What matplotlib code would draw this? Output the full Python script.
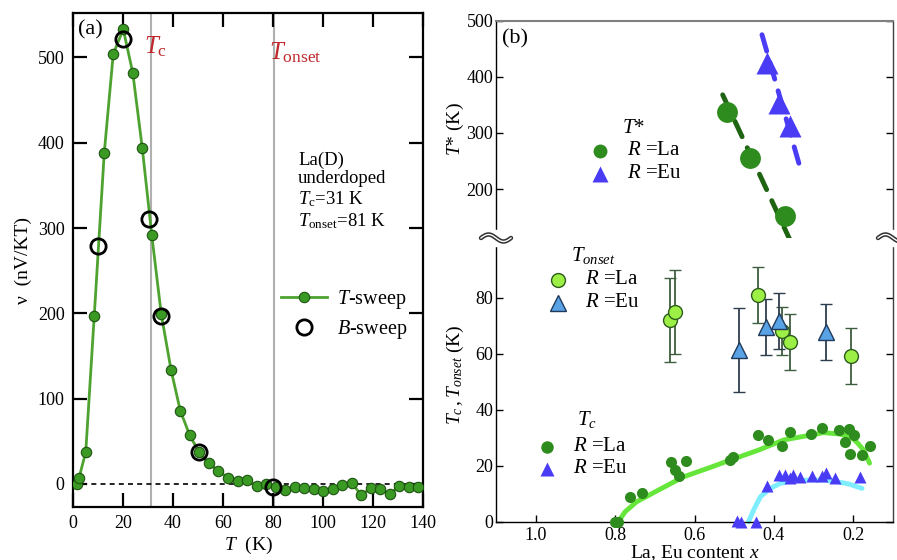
import numpy as np
import matplotlib
matplotlib.use("Agg")
import matplotlib.pyplot as plt
from matplotlib.lines import Line2D
from matplotlib.patches import Rectangle

plt.rcParams['font.family'] = ['Liberation Serif', 'DejaVu Serif']
plt.rcParams['mathtext.fontset'] = 'custom'
plt.rcParams['mathtext.rm'] = 'Liberation Serif'
plt.rcParams['mathtext.it'] = 'Liberation Serif:italic'
plt.rcParams['mathtext.bf'] = 'Liberation Serif:bold'

# ---------------- Panel (a) data ----------------
t_sweep_T = [1.5, 2.4, 5.1, 8.5, 12.5, 16.1, 20.1, 23.9, 27.7, 31.5, 35.3, 39.2, 42.9,
             46.7, 50.5, 54.3, 58.1, 62.0, 65.9, 69.6, 73.5, 77.2, 81.0, 84.8, 88.8,
             92.5, 96.3, 100.0, 103.8, 107.7, 111.5, 115.2, 119.1, 122.9, 126.6,
             130.5, 134.3, 138.1]
t_sweep_v = [0, 7, 37.5, 197, 388, 504, 533, 482, 394, 292, 199, 134, 86,
             57, 37, 24, 15.6, 7, 3, 5, -2.3, 0, -4, -7, -3,
             -5, -6, -8, -5.5, -1.5, 1.5, -13, -5, -5.5, -12,
             -2.5, -3.5, -3.5]
b_sweep_T = [10.1, 20.1, 30.5, 35.3, 50.5, 80.1]
b_sweep_v = [279, 522, 311, 197, 37, -4]
Tc_a = 31
Tonset_a = 80.5

# ---------------- Panel (b) data ----------------
tstar_la_x = [0.517, 0.460, 0.371]
tstar_la_y = [337, 255, 152]
tstar_eu_x = [0.417, 0.388, 0.360]
tstar_eu_y = [424, 353, 312]
trend_la_x = [0.529, 0.350]
trend_la_y = [368, 95]
trend_eu_x = [0.430, 0.335]
trend_eu_y = [475, 241]

tonset_la_x = [0.662, 0.648, 0.439, 0.380, 0.359, 0.207]
tonset_la_y = [72, 75, 81, 68, 64, 59]
tonset_la_err = [15, 15, 10, 8.5, 10, 10]
tonset_eu_x = [0.489, 0.419, 0.387, 0.268]
tonset_eu_y = [61.3, 69.4, 71.8, 67.7]
tonset_eu_err = [15, 10, 10, 10]

tc_la_x = [0.800, 0.792, 0.763, 0.733, 0.660, 0.649, 0.640, 0.621, 0.510, 0.502,
           0.439, 0.414, 0.380, 0.359, 0.306, 0.279, 0.237, 0.211, 0.220, 0.199,
           0.209, 0.178, 0.159]
tc_la_y = [0, 0, 8.9, 10.1, 21.2, 18.5, 16.3, 21.8, 22, 23.2,
           31, 29.2, 27, 32.1, 31.3, 33.3, 32.7, 33, 28.6, 31,
           24.2, 23.8, 27]
tc_eu_x = [0.493, 0.484, 0.444, 0.417, 0.388, 0.371, 0.359, 0.353, 0.333, 0.304,
           0.279, 0.268, 0.245, 0.182]
tc_eu_y = [0.4, 0, 0, 12.7, 16.7, 16.7, 15.5, 16.5, 15.9, 16.3,
           16.3, 17.5, 15.5, 16.1]

guide_la_x = [0.792, 0.775, 0.746, 0.70, 0.628, 0.56, 0.51, 0.44, 0.375, 0.32,
              0.275, 0.235, 0.207, 0.19, 0.174, 0.159]
guide_la_y = [0, 3.5, 7.1, 10.6, 16, 19.4, 22, 25.5, 29.2, 30.6,
              31.8, 31.3, 30.4, 28.2, 25.6, 20.9]
guide_eu_x = [0.464, 0.45, 0.434, 0.41, 0.384, 0.35, 0.308, 0.27, 0.241, 0.21, 0.178]
guide_eu_y = [0, 4.5, 8.9, 11.8, 13.7, 14.6, 14.9, 14.8, 14.3, 13.4, 11.9]

# ---------------- Figure ----------------
W, H = 897, 560
fig = plt.figure(figsize=(W / 100, H / 100), dpi=100)
SERIF = 'Liberation Serif'

def fx(px):
    return px / W

def fy(py):
    return 1 - py / H

# Panel (a)
axa = fig.add_axes([fx(73), fy(507), fx(423) - fx(73), fy(13) - fy(507)])
axa.set_xlim(0, 140)
axa.set_ylim(-27, 552)
axa.axvline(Tc_a, color='#b0b0b0', lw=1.5, zorder=1)
axa.axvline(Tonset_a, color='#b0b0b0', lw=1.5, zorder=1)
axa.axhline(0, color='black', lw=1.2, ls=(0, (3, 2.5)), zorder=1)
axa.plot(t_sweep_T, t_sweep_v, '-o', color='#4ea22f', lw=2, ms=7.5,
         mfc='#3b9a24', mec='#1c5410', mew=0.8, zorder=3, label='$T$-sweep')
axa.plot(b_sweep_T, b_sweep_v, 'o', ms=11, mfc='none', mec='black', mew=2,
         zorder=4, label='$B$-sweep')
for s in axa.spines.values():
    s.set_linewidth(1.6)
axa.set_xticks(np.arange(0, 141, 20))
axa.set_yticks(np.arange(0, 501, 100))
axa.tick_params(direction='in', length=10, width=1.6, top=True, right=True,
                labelsize=13, pad=6, labelfontfamily=SERIF)
axa.set_xlabel('$T$  (K)', fontsize=14, labelpad=2)
axa.set_ylabel('ν  (nV/KT)', fontsize=14, labelpad=4)
axa.text(0.014, 0.985, '(a)', transform=axa.transAxes, fontsize=16, va='top', ha='left')
axa.text(28.3, 513, r'$T_{\mathrm{c}}$', color='#c0282d', fontsize=18, va='center', ha='left')
axa.text(78.3, 506, r'$T_{\mathrm{onset}}$', color='#c0282d', fontsize=18, va='center', ha='left')
axa.text(90, 390, 'La(D)\nunderdoped\n' + r'$T_{\mathrm{c}}$=31 K' + '\n' + r'$T_{\mathrm{onset}}$=81 K',
         fontsize=13.5, va='top', ha='left', linespacing=1.15)
axa.legend(loc='upper left', bbox_to_anchor=(0.57, 0.46), frameon=False, fontsize=14.5,
           handlelength=2.3, handletextpad=0.5, borderaxespad=0, labelspacing=0.35)

# Panel (b)
xb0, xb1 = fx(496), fx(893)
axt = fig.add_axes([xb0, fy(238), xb1 - xb0, fy(20.7) - fy(238)])
axb = fig.add_axes([xb0, fy(521.7), xb1 - xb0, fy(238) - fy(521.7)])
for ax in (axt, axb):
    ax.set_xlim(1.1, 0.1)
    ax.spines['left'].set_color('black')
    ax.spines['right'].set_color('#404040')
    for s in ax.spines.values():
        s.set_linewidth(1.0)
axt.set_ylim(113, 500)
axb.set_ylim(0, 101.3)
axt.spines['bottom'].set_visible(False)
axt.spines['top'].set_color('#808080')
axt.spines['top'].set_linewidth(1.5)
axb.spines['top'].set_visible(False)

axt.set_xticks([])
axt.set_yticks([200, 300, 400, 500])
axt.tick_params(direction='in', length=5, width=1, right=True, labelsize=13, pad=2,
                labelfontfamily=SERIF)
axb.set_xticks([1.0, 0.8, 0.6, 0.4, 0.2])
axb.set_xticklabels(['1.0', '0.8', '0.6', '0.4', '0.2'])
axb.set_yticks([0, 20, 40, 60, 80])
axb.tick_params(direction='in', length=5, width=1, right=True, labelsize=13, pad=2,
                labelfontfamily=SERIF)
axb.tick_params(axis='x', pad=4)

green_d = '#2e8b1e'
blue_v = '#4a3cf5'
# T* panel
axt.plot(trend_la_x, trend_la_y, color='#1f6412', lw=3.5, ls=(0, (3.5, 2.5)),
         dash_capstyle='round', zorder=2)
axt.plot(trend_eu_x, trend_eu_y, color=blue_v, lw=3.5, ls=(0, (3.5, 2.5)),
         dash_capstyle='round', zorder=2)
axt.plot(tstar_la_x, tstar_la_y, 'o', ms=15, color=green_d, mec='none', zorder=3)
axt.plot(tstar_eu_x, tstar_eu_y, '^', ms=16, color=blue_v, mec='none', zorder=3)
axt.set_ylabel('$T$* (K)', fontsize=14, labelpad=1)
axt.yaxis.set_label_coords(-0.075, 0.5)
axt.text(0.015, 0.96, '(b)', transform=axt.transAxes, fontsize=16, va='top', ha='left')
# T* legend
axt.text(0.318, 0.506, '$T$*', transform=axt.transAxes, fontsize=15, va='center', ha='left')
axt.plot([0.262], [0.402], 'o', ms=10, color=green_d, mec='none', transform=axt.transAxes, clip_on=False)
axt.plot([0.262], [0.295], '^', ms=11, color=blue_v, mec='none', transform=axt.transAxes, clip_on=False)
axt.text(0.33, 0.402, '$R$ =La', transform=axt.transAxes, fontsize=15, va='center', ha='left')
axt.text(0.33, 0.295, '$R$ =Eu', transform=axt.transAxes, fontsize=15, va='center', ha='left')

# Bottom panel
axb.plot(guide_la_x, guide_la_y, color='#66e63a', lw=3.5, solid_capstyle='round', zorder=2, clip_on=False)
axb.plot(guide_eu_x, guide_eu_y, color='#7eeeff', lw=3.5, solid_capstyle='round', zorder=2, clip_on=False)
axb.errorbar(tonset_la_x, tonset_la_y, yerr=tonset_la_err, fmt='o', ms=10,
             mfc='#9cef45', mec='#2d5c1c', mew=1, ecolor='#3f5d3f', elinewidth=1.3,
             capsize=4, capthick=1.3, zorder=4)
axb.errorbar(tonset_eu_x, tonset_eu_y, yerr=tonset_eu_err, fmt='^', ms=11,
             mfc='#5aa2e6', mec='#1f3a5a', mew=1, ecolor='#2d3d4d', elinewidth=1.3,
             capsize=4, capthick=1.3, zorder=4)
axb.plot(tc_la_x, tc_la_y, 'o', ms=8, color=green_d, mec='none', zorder=3, clip_on=False)
axb.plot(tc_eu_x, tc_eu_y, '^', ms=9, color=blue_v, mec='none', zorder=3, clip_on=False)
axb.set_xlabel('La, Eu content $x$', fontsize=14, labelpad=-1)
axb.set_ylabel(r'$T_c\,, T_{onset}$ (K)', fontsize=14, labelpad=1)
axb.yaxis.set_label_coords(-0.075, 0.52)
# Tonset legend
axb.text(0.19, 0.94, r'$T_{onset}$', transform=axb.transAxes, fontsize=15, va='center', ha='left')
axb.plot([0.156], [0.852], 'o', ms=10, mfc='#9cef45', mec='#2d5c1c', mew=1, transform=axb.transAxes, clip_on=False)
axb.plot([0.156], [0.771], '^', ms=11, mfc='#5aa2e6', mec='#1f3a5a', mew=1, transform=axb.transAxes, clip_on=False)
axb.text(0.224, 0.852, '$R$ =La', transform=axb.transAxes, fontsize=15, va='center', ha='left')
axb.text(0.224, 0.771, '$R$ =Eu', transform=axb.transAxes, fontsize=15, va='center', ha='left')
# Tc legend
axb.text(0.205, 0.36, r'$T_c$', transform=axb.transAxes, fontsize=15, va='center', ha='left')
axb.plot([0.128], [0.264], 'o', ms=9, color=green_d, mec='none', transform=axb.transAxes, clip_on=False)
axb.plot([0.128], [0.186], '^', ms=10, color=blue_v, mec='none', transform=axb.transAxes, clip_on=False)
axb.text(0.194, 0.264, '$R$ =La', transform=axb.transAxes, fontsize=15, va='center', ha='left')
axb.text(0.194, 0.186, '$R$ =Eu', transform=axb.transAxes, fontsize=15, va='center', ha='left')

# Break marks (tilde) on left and right spines
for cx in (496, 893):
    fig.patches.append(Rectangle((fx(cx - 4), fy(246)), fx(8), fy(230) - fy(246),
                                 transform=fig.transFigure, color='white', zorder=5))
    s = np.linspace(-1, 1, 40)
    xs = cx + 15 * s
    ys = 238 + 3.5 * np.sin(np.pi * s)
    fig.add_artist(Line2D(fx(xs), fy(ys), color='#303030', lw=3.2, zorder=6,
                          transform=fig.transFigure, solid_capstyle='round'))
    fig.add_artist(Line2D(fx(xs), fy(ys), color='white', lw=1.0, zorder=7,
                          transform=fig.transFigure))

fig.savefig('out.png', dpi=100)
